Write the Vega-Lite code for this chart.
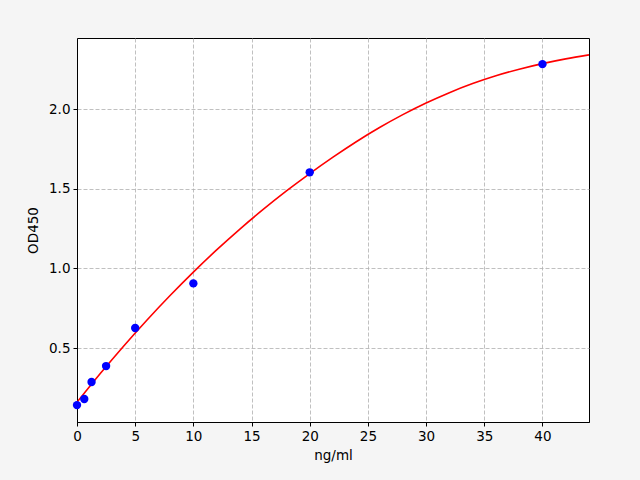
{
  "$schema": "https://vega.github.io/schema/vega-lite/v6.json",
  "autosize": "none",
  "width": 512,
  "height": 384,
  "padding": {"left": 77, "top": 38, "right": 51, "bottom": 58},
  "background": "#f5f5f5",
  "config": {
    "font": "DejaVu Sans",
    "view": {"fill": "white", "stroke": "black", "strokeWidth": 1},
    "axis": {
      "labelFont": "DejaVu Sans",
      "labelFontSize": 13.5,
      "labelColor": "black",
      "labelFlush": false,
      "titleFont": "DejaVu Sans",
      "titleFontSize": 13.5,
      "titleFontWeight": "normal",
      "titleColor": "black",
      "domain": true,
      "domainColor": "black",
      "domainWidth": 1,
      "tickColor": "black",
      "tickSize": 4,
      "tickWidth": 1,
      "labelPadding": 3,
      "grid": true,
      "gridColor": "#b0b0b0",
      "gridDash": [4, 2],
      "gridWidth": 0.8
    }
  },
  "datasets": {
    "curve": [
      {"x": 0, "y": 0.16}, {"x": 2, "y": 0.34}, {"x": 4, "y": 0.512}, {"x": 6, "y": 0.675},
      {"x": 8, "y": 0.83}, {"x": 10, "y": 0.977}, {"x": 12, "y": 1.116}, {"x": 14, "y": 1.247},
      {"x": 16, "y": 1.37}, {"x": 18, "y": 1.486}, {"x": 20, "y": 1.595}, {"x": 22, "y": 1.698},
      {"x": 24, "y": 1.795}, {"x": 26, "y": 1.884}, {"x": 28, "y": 1.965}, {"x": 30, "y": 2.038},
      {"x": 32, "y": 2.103}, {"x": 34, "y": 2.16}, {"x": 36, "y": 2.209}, {"x": 38, "y": 2.25},
      {"x": 40, "y": 2.285}, {"x": 42, "y": 2.315}, {"x": 44, "y": 2.34}
    ],
    "points": [
      {"x": 0, "y": 0.142}, {"x": 0.625, "y": 0.18}, {"x": 1.25, "y": 0.287},
      {"x": 2.5, "y": 0.387}, {"x": 5, "y": 0.626}, {"x": 10, "y": 0.906},
      {"x": 20, "y": 1.603}, {"x": 40, "y": 2.282}
    ]
  },
  "layer": [
    {
      "data": {"name": "curve"},
      "mark": {"type": "line", "color": "#ff0000", "strokeWidth": 1.6, "interpolate": "natural", "clip": true},
      "encoding": {
        "x": {"field": "x", "type": "quantitative", "scale": {"domain": [0, 44], "nice": false, "zero": false},
              "axis": {"values": [0, 5, 10, 15, 20, 25, 30, 35, 40], "format": "d", "title": "ng/ml", "titlePadding": 6}},
        "y": {"field": "y", "type": "quantitative", "scale": {"domain": [0.036, 2.446], "nice": false, "zero": false},
              "axis": {"values": [0.5, 1.0, 1.5, 2.0], "format": ".1f", "title": "OD450", "titlePadding": 8}}
      }
    },
    {
      "data": {"name": "points"},
      "mark": {"type": "point", "filled": true, "color": "#0000ff", "opacity": 1, "size": 70, "clip": false},
      "encoding": {
        "x": {"field": "x", "type": "quantitative"},
        "y": {"field": "y", "type": "quantitative"}
      }
    }
  ]
}
